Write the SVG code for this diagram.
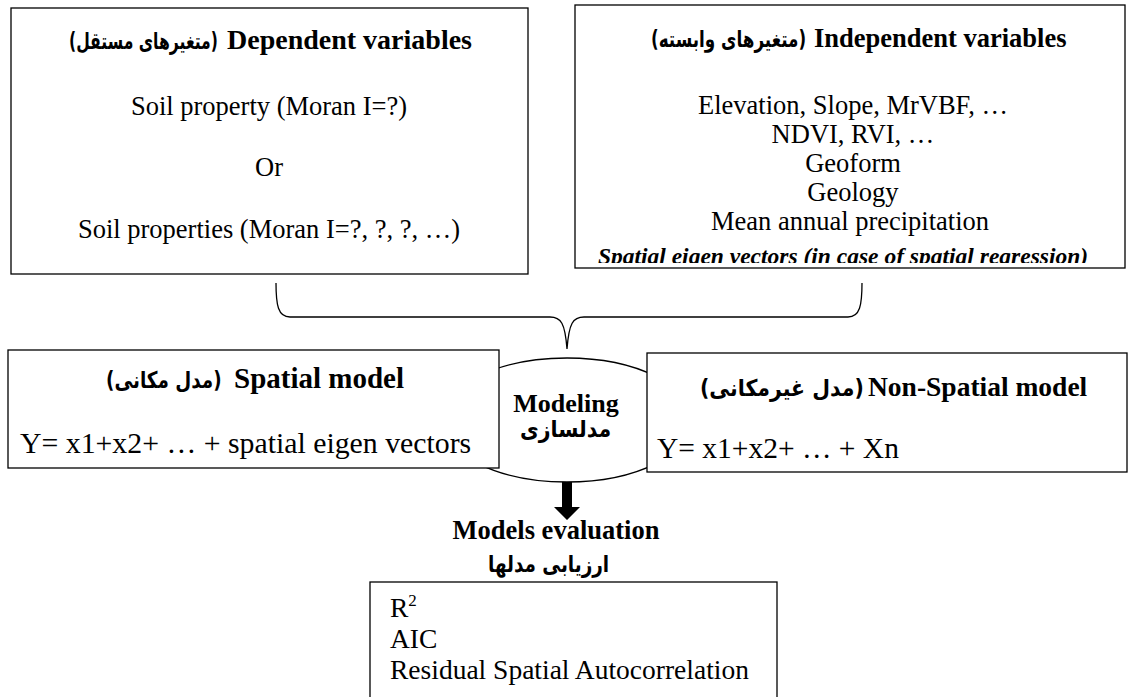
<svg xmlns="http://www.w3.org/2000/svg" width="1132" height="697" viewBox="0 0 1132 697">
<style>
.box{fill:#fff;stroke:#000;stroke-width:1.3}
.t{font-family:"Liberation Serif","DejaVu Sans",serif;fill:#000}
.b{font-weight:bold}
.c{text-anchor:middle}
.ar{font-family:"DejaVu Sans",sans-serif;font-size:23px;font-weight:bold;fill:#000}
.con{fill:none;stroke:#000;stroke-width:1.3}
</style>
<defs>
<clipPath id="clipR"><rect x="576" y="5" width="546" height="258"/></clipPath>
</defs>
<rect width="1132" height="697" fill="#fff"/>
<g id="dependent">
<rect class="box" x="11" y="8" width="517" height="266"/>
<text class="ar" transform="translate(69,49) scale(0.68,1)">(متغیرهای مستقل)</text>
<text class="t b" x="227" y="49" font-size="28">Dependent variables</text>
<text class="t c" x="269" y="115" font-size="26.5">Soil property (Moran I=?)</text>
<text class="t c" x="269" y="176" font-size="26.5">Or</text>
<text class="t c" x="269" y="238" font-size="26.5">Soil properties (Moran I=?, ?, ?, …)</text>
</g>
<g id="independent">
<rect class="box" x="575" y="5" width="550" height="263"/>
<text class="ar" transform="translate(651,47) scale(0.73,1)">(متغیرهای وابسته)</text>
<text class="t b" x="814" y="47" font-size="26.5">Independent variables</text>
<g clip-path="url(#clipR)">
<text class="t c" x="853" y="114" font-size="26.5">Elevation, Slope, MrVBF, …</text>
<text class="t c" x="853" y="143" font-size="26.5">NDVI, RVI, …</text>
<text class="t c" x="853" y="172" font-size="26.5">Geoform</text>
<text class="t c" x="853" y="201" font-size="26.5">Geology</text>
<text class="t c" x="850" y="230" font-size="26.5">Mean annual precipitation</text>
<text class="t c b" x="843" y="264" font-size="23.5" font-style="italic">Spatial eigen vectors (in case of spatial regression)</text>
</g>
</g>
<g id="connectors">
<path class="con" d="M276,283 C276,305 278,317 290,317 L550,317 C561,317 565,323 567,349 C569,323 573,317 584,317 L848,317 C860,317 862,305 862,283"/>
<path d="M562,447 H572 V507 H580 L567,520 L554,507 H562 Z" fill="#000"/>
</g>
<g id="modeling">
<ellipse class="box" cx="567" cy="420" rx="125" ry="62"/>
<text class="t b c" x="566" y="412" font-size="26">Modeling</text>
<text class="ar" transform="translate(520,437) scale(0.89,1)">مدلسازی</text>
</g>
<g id="spatial">
<rect class="box" x="8" y="350" width="491" height="118"/>
<text class="ar" transform="translate(106,388) scale(0.8,1)">(مدل مکانی)</text>
<text class="t b" x="234" y="388" font-size="29">Spatial model</text>
<text class="t" x="20" y="453" font-size="29.8">Y= x1+x2+ … + spatial eigen vectors</text>
</g>
<g id="nonspatial">
<rect class="box" x="647" y="353" width="480" height="119"/>
<text class="ar" transform="translate(700,396) scale(0.89,1)">(مدل غیرمکانی)</text>
<text class="t b" x="868" y="396" font-size="27.5">Non-Spatial model</text>
<text class="t" x="657" y="458" font-size="29.5">Y= x1+x2+ … + Xn</text>
</g>
<g id="evaluation">
<text class="t b c" x="556" y="539" font-size="26.5">Models evaluation</text>
<text class="ar" transform="translate(488,572) scale(0.8,1)">ارزیابی مدلها</text>
<rect class="box" x="370" y="582" width="407" height="130"/>
<text class="t" x="390" y="617" font-size="27.5">R<tspan font-size="17" dy="-11">2</tspan></text>
<text class="t" x="390" y="648" font-size="27.5">AIC</text>
<text class="t" x="390" y="679" font-size="27.5">Residual Spatial Autocorrelation</text>
</g>
</svg>
